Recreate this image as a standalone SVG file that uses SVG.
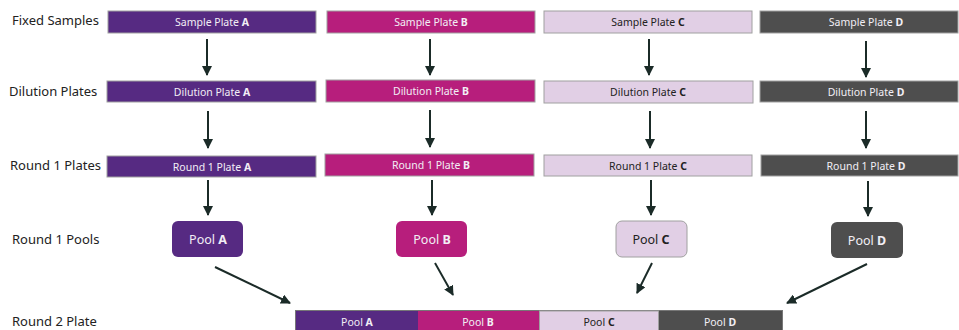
<svg xmlns="http://www.w3.org/2000/svg" width="959" height="330" viewBox="0 0 959 330">
<defs>
<marker id="ah" viewBox="0 0 10 10" refX="9" refY="5" markerWidth="5" markerHeight="5" orient="auto" markerUnits="strokeWidth">
<path d="M0,0 L10,5 L0,10 z" fill="#1b2b28"/>
</marker>
<style>
.lbl{font-family:"Noto Sans","Liberation Sans",sans-serif;font-size:13px;fill:#222}
.bt{font-family:"Noto Sans","Liberation Sans",sans-serif;font-size:10.5px;text-anchor:middle;dominant-baseline:central}
.pt{font-family:"Noto Sans","Liberation Sans",sans-serif;font-size:12.5px;text-anchor:middle;dominant-baseline:central}
.w{fill:#f2eef5}
.k{fill:#222}
.b{font-weight:bold}
.pa{fill:#562a82}
.pb{fill:#b71e7c}
.pc{fill:#e1cfe5}
.pd{fill:#4e4e4e}
.box{stroke:#a0a0a0;stroke-width:1}
.arr{stroke:#1b2b28;stroke-width:2;fill:none;marker-end:url(#ah)}
</style>
</defs>
<g id="labels">
<text class="lbl" x="12" y="25">Fixed Samples</text>
<text class="lbl" x="9" y="96">Dilution Plates</text>
<text class="lbl" x="10" y="170">Round 1 Plates</text>
<text class="lbl" x="12" y="244">Round 1 Pools</text>
<text class="lbl" x="12" y="326">Round 2 Plate</text>
</g>
<g id="sampleA"><rect class="box pa" x="108" y="11" width="208" height="22"/><text class="bt w" x="212" y="22">Sample Plate <tspan class="b">A</tspan></text></g>
<g id="sampleB"><rect class="box pb" x="327" y="11" width="208" height="22"/><text class="bt w" x="431" y="22">Sample Plate <tspan class="b">B</tspan></text></g>
<g id="sampleC"><rect class="box pc" x="544" y="11" width="208" height="22"/><text class="bt k" x="648" y="22">Sample Plate <tspan class="b">C</tspan></text></g>
<g id="sampleD"><rect class="box pd" x="760" y="11" width="198" height="22"/><text class="bt w" x="866" y="22">Sample Plate <tspan class="b">D</tspan></text></g>
<g id="dilA"><rect class="box pa" x="107" y="81" width="209" height="21"/><text class="bt w" x="212" y="92">Dilution Plate <tspan class="b">A</tspan></text></g>
<g id="dilB"><rect class="box pb" x="326" y="80" width="209" height="22"/><text class="bt w" x="431" y="91">Dilution Plate <tspan class="b">B</tspan></text></g>
<g id="dilC"><rect class="box pc" x="544" y="81" width="209" height="22"/><text class="bt k" x="648" y="92">Dilution Plate <tspan class="b">C</tspan></text></g>
<g id="dilD"><rect class="box pd" x="760" y="81" width="198" height="21"/><text class="bt w" x="866" y="92">Dilution Plate <tspan class="b">D</tspan></text></g>
<g id="r1A"><rect class="box pa" x="107" y="156" width="209" height="21"/><text class="bt w" x="212" y="167">Round 1 Plate <tspan class="b">A</tspan></text></g>
<g id="r1B"><rect class="box pb" x="325" y="154" width="209" height="22"/><text class="bt w" x="431" y="165">Round 1 Plate  <tspan class="b">B</tspan></text></g>
<g id="r1C"><rect class="box pc" x="544" y="155" width="208" height="21"/><text class="bt k" x="648" y="166">Round 1 Plate <tspan class="b">C</tspan></text></g>
<g id="r1D"><rect class="box pd" x="761" y="155" width="197" height="21"/><text class="bt w" x="866" y="166">Round 1 Plate <tspan class="b">D</tspan></text></g>
<g id="poolA"><rect class="pa" x="172" y="221" width="71" height="36" rx="6"/><text class="pt w" x="208" y="239">Pool <tspan class="b">A</tspan></text></g>
<g id="poolB"><rect class="pb" x="396" y="221" width="71" height="36" rx="6"/><text class="pt w" x="432" y="239">Pool <tspan class="b">B</tspan></text></g>
<g id="poolC"><rect class="box pc" x="616" y="221" width="71" height="36" rx="6"/><text class="pt k" x="651" y="239">Pool <tspan class="b">C</tspan></text></g>
<g id="poolD"><rect class="pd" x="831" y="222" width="72" height="36" rx="6"/><text class="pt w" x="867" y="240">Pool <tspan class="b">D</tspan></text></g>
<g id="round2">
<rect x="295" y="310" width="488" height="24" fill="#777"/>
<rect class="pa" x="296" y="311" width="122" height="23"/>
<rect class="pb" x="418" y="311" width="121" height="23"/>
<rect class="pc" x="539.5" y="311" width="119" height="23" stroke="#a0a0a0"/>
<rect class="pd" x="659" y="311" width="123" height="23"/>
<text class="bt w" x="357" y="322">Pool <tspan class="b">A</tspan></text>
<text class="bt w" x="478" y="322">Pool <tspan class="b">B</tspan></text>
<text class="bt k" x="599" y="322">Pool <tspan class="b">C</tspan></text>
<text class="bt w" x="720" y="322">Pool <tspan class="b">D</tspan></text>
</g>
<g id="connectors">
<line class="arr" x1="207" y1="39" x2="207" y2="75"/>
<line class="arr" x1="430" y1="39" x2="430" y2="75"/>
<line class="arr" x1="649" y1="39" x2="649" y2="75"/>
<line class="arr" x1="866" y1="41" x2="866" y2="77"/>
<line class="arr" x1="208" y1="111" x2="208" y2="148"/>
<line class="arr" x1="430" y1="110" x2="430" y2="147"/>
<line class="arr" x1="650" y1="111" x2="650" y2="148"/>
<line class="arr" x1="866" y1="111" x2="866" y2="148"/>
<line class="arr" x1="208" y1="180" x2="208" y2="215"/>
<line class="arr" x1="432" y1="180" x2="432" y2="215"/>
<line class="arr" x1="651" y1="180" x2="651" y2="215"/>
<line class="arr" x1="868" y1="181" x2="868" y2="216"/>
<line class="arr" x1="215" y1="267" x2="290" y2="303"/>
<line class="arr" x1="435" y1="263" x2="453" y2="295"/>
<line class="arr" x1="652" y1="263" x2="637" y2="293"/>
<line class="arr" x1="867" y1="264" x2="787" y2="303"/>
</g>
</svg>
